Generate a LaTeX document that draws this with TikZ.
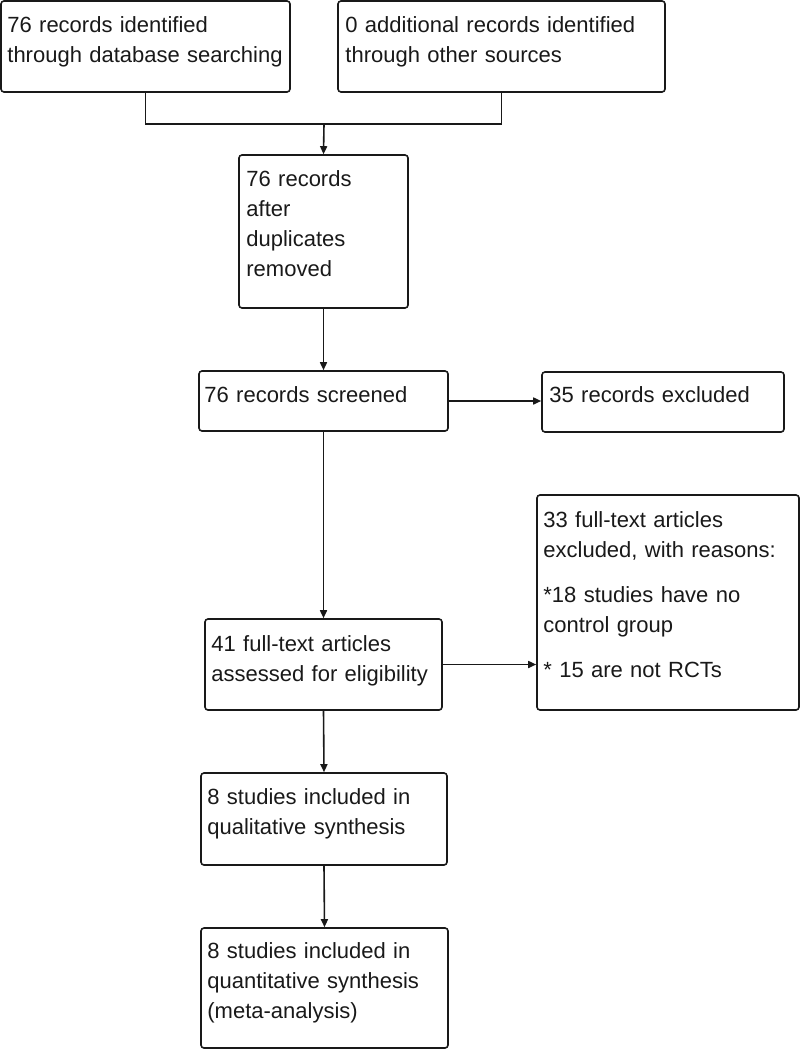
\documentclass[tikz,border=0pt]{standalone}
\usepackage{fontspec}
\setmainfont{Liberation Sans}
\usetikzlibrary{arrows.meta,calc}
\begin{document}
\begin{tikzpicture}[x=1pt,y=-1pt,
  box/.style={draw=black!90, line width=1.6pt, rounded corners=3pt, inner sep=0pt, fill=none},
  txt/.style={anchor=base west, inner sep=0pt, text width=300pt, align=left, font=\fontsize{22}{30}\selectfont, text=black!90},
  conn/.style={draw=black!90, line width=1.6pt},
  arr/.style={conn, -{Triangle[length=8pt,width=7pt]}}]
\useasboundingbox (0,0) rectangle (800,1051);
\node[box, minimum width=289pt, minimum height=91pt] (b1) at (145.5,46.5) {};
\node[box, minimum width=327pt, minimum height=91pt] (b2) at (501.5,46.5) {};
\node[box, minimum width=169pt, minimum height=153pt] (b3) at (323.5,231.5) {};
\node[box, minimum width=249pt, minimum height=60pt] (b4) at (323.5,401) {};
\node[box, minimum width=242pt, minimum height=60pt] (b5) at (663,402) {};
\node[box, minimum width=237pt, minimum height=91pt] (b6) at (323.5,664.5) {};
\node[box, minimum width=262pt, minimum height=215pt] (b7) at (668,602.5) {};
\node[box, minimum width=246pt, minimum height=92pt] (b8) at (324,819) {};
\node[box, minimum width=247pt, minimum height=120pt] (b9) at (324.5,988) {};

\node[txt] (t1) at ($(b1.north west)+(7,32)$) {76 records identified\\through database searching};
\node[txt] (t2) at ($(b2.north west)+(8,32)$) {0 additional records identified\\through other sources};
\node[txt] (t3) at ($(b3.north west)+(8,32)$) {76 records\\after\\duplicates\\removed};
\node[txt] (t4) at ($(b4.north west)+(6,32)$) {76 records screened};
\node[txt] (t5) at ($(b5.north west)+(8,31)$) {35 records excluded};
\node[txt] (t6) at ($(b6.north west)+(7,33)$) {41 full-text articles\\assessed for eligibility};
\node[txt] (t7) at ($(b7.north west)+(7,33)$) {33 full-text articles\\excluded, with reasons:\\[15pt]*18 studies have no\\control group\\[15pt]* 15 are not RCTs};
\node[txt] (t8) at ($(b8.north west)+(7,32)$) {8 studies included in\\qualitative synthesis};
\node[txt] (t9) at ($(b9.north west)+(7,31)$) {8 studies included in\\quantitative synthesis\\(meta-analysis)};

\coordinate (j) at (324,124);
\draw[conn] (b1.south) |- (j);
\draw[conn] (b2.south) |- (j);
\draw[arr] (j) -- (b3.north);
\draw[arr] (b3.south) -- (b4.north);
\draw[arr] (b4.east) -- (b4.east -| b5.west);
\draw[arr] (b4.south) -- (b6.north);
\draw[arr] (b6.east) -- (b6.east -| b7.west);
\draw[arr] (b6.south) -- (b8.north);
\draw[arr] (b8.south) -- (b9.north);
\end{tikzpicture}
\end{document}
